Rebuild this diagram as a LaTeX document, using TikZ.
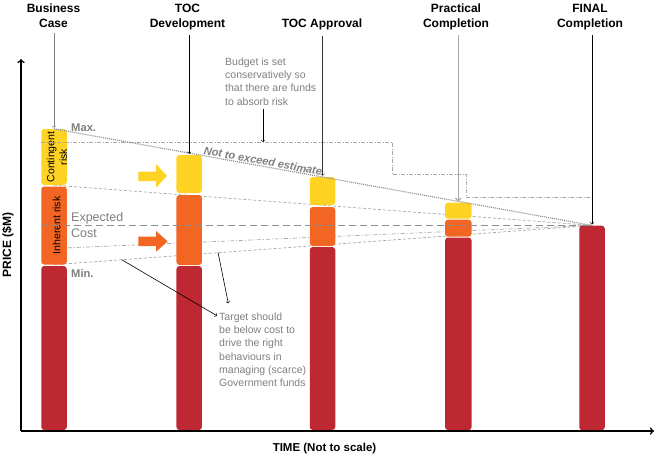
\documentclass[tikz,border=0pt]{standalone}
\usepackage{fontspec}
\setmainfont{Liberation Sans}
\usepackage{tikz}
\usetikzlibrary{arrows,positioning,calc,backgrounds}
\definecolor{riskyellow}{HTML}{FFD324}
\definecolor{riskorange}{HTML}{F26522}
\definecolor{riskred}{HTML}{BE2832}
\definecolor{notegray}{HTML}{7F7F7F}
\definecolor{linegray}{HTML}{8E8E8E}
\definecolor{lightline}{HTML}{A8A8A8}

\begin{document}
\begin{tikzpicture}[
    x=1pt, y=-1pt,
    >=to,
    font=\fontsize{10.5}{13}\selectfont,
    stage/.style={
		font=\bfseries\fontsize{12}{15}\selectfont,
		align=center,
		anchor=north,
		inner sep=1pt
	},
    barpart/.style={
		rectangle,
		rounded corners=3pt,
		minimum width=25.5pt,
		inner sep=0pt
	},
	lvl/.style={
		anchor=west,
		text=notegray,
		inner sep=0pt,
		font=\fontsize{12.5}{14}\selectfont
	},
	note/.style={
		anchor=north west,
		align=left,
		text=notegray,
		inner sep=0pt,
		font=\fontsize{10.5}{13.3}\selectfont
	},
	inbar/.style={
		rotate=90,
		align=center,
		inner sep=0pt,
		font=\fontsize{10.5}{12.6}\selectfont
	},
	pointer/.style={->, line width=0.6pt, shorten <=4pt, shorten >=1pt},
	axisline/.style={->, line width=1.6pt}
  ]
  \useasboundingbox (0,0) rectangle (656,458);

  % stages along the top
  \node [stage] (bc)   at (53.5,2.7) {Business\\Case};
  \node [stage] (tocd) at (187.5,2.7) {TOC\\Development};
  \node [stage] (toca) at (322,18) {TOC Approval};
  \node [stage] (prac) at (456,2.7) {Practical\\Completion};
  \node [stage] (fin)  at (590,2.7) {FINAL\\Completion};

  % the bars
  \node [barpart, fill=riskyellow, minimum height=56pt] (cont1) at (54,157) {};
  \node [barpart, fill=riskorange, minimum height=78pt] (inh1) at (54,225.5) {};
  \node [barpart, fill=riskred, minimum height=164pt] (base1) at (54,348) {};

  \node [barpart, fill=riskyellow, minimum height=38pt] (cont2) at (189.2,174) {};
  \node [barpart, fill=riskorange, minimum height=70pt] (inh2) at (189.2,230) {};
  \node [barpart, fill=riskred, minimum height=164pt] (base2) at (189.2,348) {};

  \node [barpart, fill=riskyellow, minimum height=28pt] (cont3) at (322.5,191) {};
  \node [barpart, fill=riskorange, minimum height=39pt] (inh3) at (322.5,226.5) {};
  \node [barpart, fill=riskred, minimum height=183pt] (base3) at (322.5,338.5) {};

  \node [barpart, fill=riskyellow, minimum height=16pt, minimum width=26.5pt] (cont4) at (458.3,210.7) {};
  \node [barpart, fill=riskorange, minimum height=17pt, minimum width=26.5pt] (inh4) at (458.3,228.2) {};
  \node [barpart, fill=riskred, minimum height=192.5pt, minimum width=26.5pt] (base4) at (458.3,333.8) {};

  \node [barpart, fill=riskred, minimum height=204.6pt] (base5) at (592,327.9) {};

  \node [inbar] (conttxt) at (57,157) {Contingent\\risk};
  \node [inbar] (inhtxt) at (56.7,225.5) {Inherent risk};

  % lines running behind the bars
  \coordinate (costL) at (41,249);
  \begin{pgfonlayer}{background}
    \draw [lightline, line width=0.7pt, dash pattern=on 3pt off 2pt] (cont1.south) -- (base5.north);
    \draw [lightline, line width=0.7pt, dash pattern=on 4pt off 2pt on 1pt off 2pt] (costL) -- (base5.north);
    \draw [lightline, line width=0.7pt, dash pattern=on 3pt off 2pt] (inh1.south) -- (base5.north);
  \end{pgfonlayer}

  % budget steps
  \coordinate (bud0) at (41,142);
  \coordinate (bud1) at (392,174);
  \coordinate (bud2) at (466,197);
  \coordinate (bud3) at (592,197);
  \draw [lightline, line width=0.7pt, dash pattern=on 4pt off 1.5pt on 1pt off 1.5pt] (bud0) -| (bud1) -| (bud2) -- (bud3);

  % expected cost and not to exceed
  \draw [linegray, line width=1.4pt, dash pattern=on 7pt off 4pt] (cont1.west |- base5.north) -- (base5.north);
  \draw [linegray, line width=1.2pt, dash pattern=on 1pt off 1pt] (cont1.north) -- node [sloped, above, pos=0.387, inner sep=0.5pt, text=notegray, font=\bfseries\itshape\fontsize{11}{13}\selectfont] (nte) {Not to exceed estimate} (base5.north);

  % stage pointers
  \draw [pointer, notegray] (bc.south -| cont1.north) -- (cont1.north);
  \draw [pointer, black] (tocd.south -| cont2.north) -- (cont2.north);
  \draw [pointer, black!80] (toca.south -| cont3.north) -- (cont3.north);
  \draw [pointer, lightline, line width=1.4pt] (prac.south -| cont4.north) -- (cont4.north);
  \draw [pointer, black] (fin.south -| base5.north) -- (base5.north);

  % block arrows
  \fill [riskyellow] (138.3,171.7) -- (156,171.7) -- (156,164) -- (167,175.8) -- (156,187.7) -- (156,181) -- (138.3,181) -- cycle;
  \fill [riskorange] (138.3,236.5) -- (156,236.5) -- (156,231) -- (167.7,241.4) -- (156,251.7) -- (156,246) -- (138.3,246) -- cycle;

  % level labels
  \node [lvl, font=\bfseries\fontsize{11.2}{13}\selectfont] (maxlbl) at (71,128) {Max.};
  \node [lvl] (explbl) at (71,218.3) {Expected};
  \node [lvl] (costlbl) at (71,233.3) {Cost};
  \node [lvl, font=\bfseries\fontsize{11.2}{13}\selectfont] (minlbl) at (71,273.5) {Min.};

  % notes
  \node [note] (budget) at (225,57.3) {Budget is set\\conservatively so\\that there are funds\\to absorb risk};
  \coordinate (budline) at (263,143);
  \draw [pointer] (budline |- budget.south) -- (budline);

  \node [note] (target) at (219,312.3) {Target should\\be below cost to\\drive the right\\behaviours in\\managing (scarce)\\Government funds};
  \draw [->, line width=0.6pt] ($(inh1.south)!0.126!(base5.north)$) -- ($(target.north west)+(-2,3.5)$);
  \draw [->, line width=0.6pt] ($(inh1.south)!0.305!(base5.north)$) -- ($(target.north west)+(9.3,-9)$);

  % axes
  \coordinate (origin) at (21,431);
  \draw [axisline] (origin) -- (21,59);
  \draw [axisline] (origin) -- (654,431);
  \node [rotate=90, font=\bfseries\fontsize{12}{14}\selectfont] (price) at (8,245) {PRICE (\$M)};
  \node [font=\bfseries\fontsize{11.5}{14}\selectfont] (time) at (324.5,449) {TIME (Not to scale)};

\end{tikzpicture}
\end{document}
